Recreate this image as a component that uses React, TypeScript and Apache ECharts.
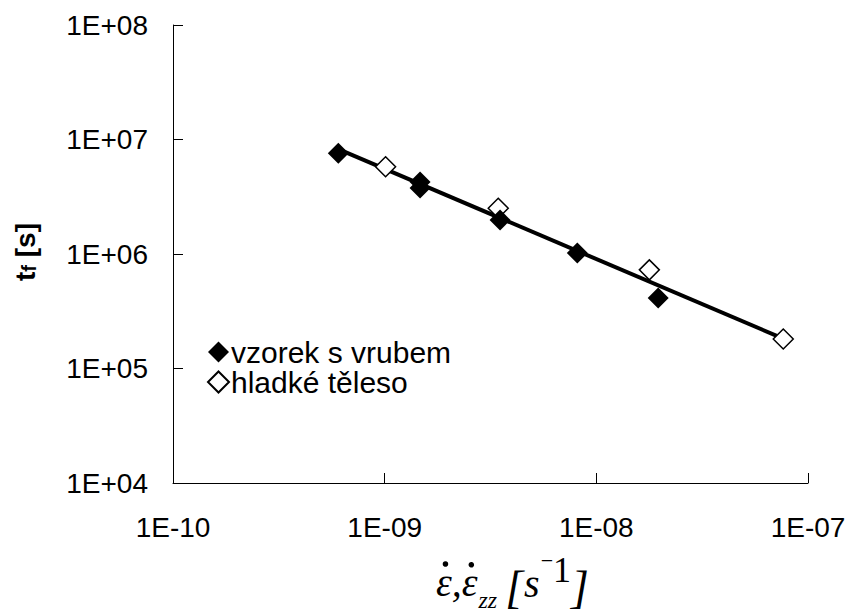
import React, { useEffect, useRef } from "react";
import * as echarts from "echarts";

// ---- data ----
const notchedX = [6.04e-10, 1.47e-9, 1.47e-9, 3.51e-9, 8.13e-9, 1.96e-8];
const notchedY = [7.57e6, 4.25e6, 3.77e6, 1.98e6, 1.02e6, 4.12e5];
const smoothX = [1.01e-9, 3.44e-9, 1.78e-8, 7.64e-8];
const smoothY = [5.78e6, 2.51e6, 7.27e5, 1.81e5];

const seriesNames = ["vzorek s vrubem", "hladké těleso"];
const xTickExps = [-10, -9, -8, -7];
const xTickLabels = ["1E-10", "1E-09", "1E-08", "1E-07"];
const yTickExps = [4, 5, 6, 7, 8];
const yTickLabels = ["1E+04", "1E+05", "1E+06", "1E+07", "1E+08"];

const SANS = "'Liberation Sans', Arial, sans-serif";
const SERIF = "'Liberation Serif', 'Times New Roman', serif";

function powerFit(xs: number[], ys: number[]) {
  const lx = xs.map((v) => Math.log10(v));
  const ly = ys.map((v) => Math.log10(v));
  const n = lx.length;
  const mx = lx.reduce((a, b) => a + b, 0) / n;
  const my = ly.reduce((a, b) => a + b, 0) / n;
  let sxy = 0;
  let sxx = 0;
  for (let i = 0; i < n; i++) {
    sxy += (lx[i] - mx) * (ly[i] - my);
    sxx += (lx[i] - mx) * (lx[i] - mx);
  }
  const b = sxy / sxx;
  const a = my - b * mx;
  return (x: number) => Math.pow(10, a + b * Math.log10(x));
}

const fontOf = (size: number, italic: boolean) => `${italic ? "italic " : ""}${size}px ${SERIF}`;
const measure = (text: string, font: string) => {
  try {
    return new (echarts.graphic as any).Text({ style: { text, font } }).getBoundingRect().width as number;
  } catch (e) {
    return text.length * 14;
  }
};

// x-axis title pieces: ε̇, ε̇_zz [s^-1]
type Tok = { t: string; size: number; italic: boolean; base: number; gap: number };
const titleToks: Tok[] = [
  { t: "ε,ε", size: 40, italic: true, base: 596, gap: 1 },
  { t: "zz", size: 24, italic: true, base: 608, gap: 8 },
  { t: "[", size: 46, italic: true, base: 603, gap: 1 },
  { t: "s", size: 40, italic: true, base: 597, gap: 1 },
  { t: "−", size: 22, italic: false, base: 568, gap: 0 },
  { t: "1", size: 36, italic: false, base: 582, gap: 0 },
  { t: "]", size: 46, italic: true, base: 603, gap: 0 },
];

function buildTitle(startX: number) {
  const els: any[] = [];
  let cx = startX;
  titleToks.forEach((k) => {
    const font = fontOf(k.size, k.italic);
    els.push({
      type: "text",
      x: cx,
      y: k.base - 0.3375 * k.size,
      silent: true,
      style: { text: k.t, font, fill: "#000", align: "left", verticalAlign: "middle" },
    });
    cx += measure(k.t, font) + k.gap;
  });
  // dots over both epsilons
  const f0 = fontOf(titleToks[0].size, true);
  const wE = measure("ε", f0);
  const wEc = measure("ε,", f0);
  const dotY = 564;
  els.push({ type: "circle", silent: true, shape: { cx: startX + wE * 0.6, cy: dotY, r: 2.8 }, style: { fill: "#000" } });
  els.push({ type: "circle", silent: true, shape: { cx: startX + wEc + wE * 0.6, cy: dotY, r: 2.8 }, style: { fill: "#000" } });
  return els;
}

export default function App() {
  const ref = useRef<HTMLDivElement>(null);

  useEffect(() => {
    if (!ref.current) return;
    const chart = echarts.init(ref.current, null, { renderer: "svg" });

    const allX = [...notchedX, ...smoothX];
    const allY = [...notchedY, ...smoothY];
    const f = powerFit(allX, allY);
    const xMin = Math.min(...allX);
    const xMax = Math.max(...allX);
    const trend = [
      [xMin, f(xMin)],
      [xMax, f(xMax)],
    ];

    const fmt = (exps: number[], labels: string[]) => (v: number) => {
      const e = Math.round(Math.log10(v));
      const i = exps.indexOf(e);
      return i >= 0 ? labels[i] : "";
    };

    chart.setOption({
      animation: false,
      backgroundColor: "#ffffff",
      grid: { left: 173, right: 43, top: 25, bottom: 131, containLabel: false },
      xAxis: {
        type: "log",
        logBase: 10,
        min: 1e-10,
        max: 1e-7,
        axisLine: { lineStyle: { color: "#000", width: 1 } },
        axisTick: { inside: true, length: 10, lineStyle: { color: "#000" } },
        minorTick: { show: false },
        splitLine: { show: false },
        axisLabel: {
          formatter: fmt(xTickExps, xTickLabels),
          color: "#000",
          fontFamily: SANS,
          fontSize: 28,
          margin: 30,
        },
      },
      yAxis: {
        type: "log",
        logBase: 10,
        min: 1e4,
        max: 1e8,
        axisLine: { lineStyle: { color: "#000", width: 1 } },
        axisTick: { inside: true, length: 10, lineStyle: { color: "#000" } },
        minorTick: { show: false },
        splitLine: { show: false },
        axisLabel: {
          formatter: fmt(yTickExps, yTickLabels),
          color: "#000",
          fontFamily: SANS,
          fontSize: 28,
          margin: 25,
        },
      },
      legend: {
        data: seriesNames,
        orient: "vertical",
        left: 207,
        top: 337,
        padding: 0,
        itemGap: 0,
        itemWidth: 21,
        itemHeight: 21,
        icon: "diamond",
        textStyle: { fontFamily: SANS, fontSize: 30, color: "#000", padding: [0, 0, 0, -3] },
      },
      series: [
        {
          name: "trend",
          type: "line",
          data: trend,
          symbol: "none",
          lineStyle: { color: "#000", width: 4 },
          z: 2,
          silent: true,
        },
        {
          name: seriesNames[0],
          type: "scatter",
          data: notchedX.map((x, i) => [x, notchedY[i]]),
          symbol: "diamond",
          symbolSize: 21,
          itemStyle: { color: "#000", borderColor: "#000", borderWidth: 0, opacity: 1 },
          z: 4,
        },
        {
          name: seriesNames[1],
          type: "scatter",
          data: smoothX.map((x, i) => [x, smoothY[i]]),
          symbol: "diamond",
          symbolSize: 20,
          itemStyle: { color: "#fff", borderColor: "#000", borderWidth: 1.5, opacity: 1 },
          z: 3,
        },
      ],
      graphic: [
        {
          type: "text",
          x: 25,
          y: 252,
          rotation: Math.PI / 2,
          silent: true,
          style: {
            text: "{b|t}{s|f}{b| [s]}",
            align: "center",
            verticalAlign: "middle",
            fill: "#000",
            rich: {
              b: { fontFamily: SANS, fontWeight: "bold", fontSize: 28, fill: "#000" },
              s: { fontFamily: SANS, fontWeight: "bold", fontSize: 20, fill: "#000", verticalAlign: "bottom" },
            },
          },
        },
        ...buildTitle(436),
      ],
    });

    return () => chart.dispose();
  }, []);

  return <div ref={ref} style={{ width: 851, height: 614, position: "absolute", left: 0, top: 0 }} />;
}
